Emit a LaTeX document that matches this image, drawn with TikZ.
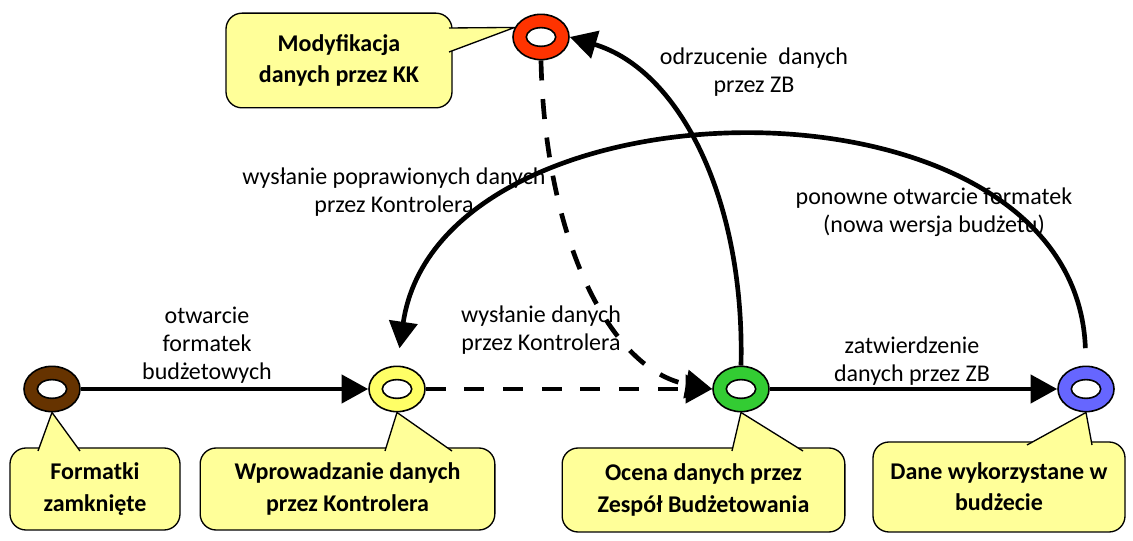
\documentclass[tikz,border=0pt]{standalone}
\usepackage{fontspec}
\setmainfont{Carlito}
\usepackage{tikz}
\usetikzlibrary{arrows.meta}
\usetikzlibrary{shapes}

\definecolor{stbrown}{RGB}{102,51,0}
\definecolor{styellow}{RGB}{255,255,102}
\definecolor{stred}{RGB}{255,51,0}
\definecolor{stgreen}{RGB}{51,204,51}
\definecolor{stblue}{RGB}{102,102,255}
\definecolor{callfill}{RGB}{255,255,153}

\begin{document}
\begin{tikzpicture}[x=0.75pt,y=0.75pt,yscale=-1,xscale=1,
  state/.style={ellipse, draw, line width=1.2pt, minimum width=42pt, minimum height=34pt, inner sep=0pt,
    path picture={\draw[line width=1.2pt, fill=white] (path picture bounding box.center) ellipse (11pt and 7pt);}},
  callbox/.style={draw, fill=callfill, rounded corners=12pt, line width=1pt, align=center, inner sep=0pt,
    font=\bfseries\fontsize{18}{23.5}\selectfont},
  lbl/.style={align=center, inner sep=0pt, font=\fontsize{18}{21}\selectfont},
  flow/.style={line width=3.5pt, -{Triangle[length=20pt,width=21pt]}},
  flowdash/.style={flow, dash pattern=on 15pt off 14pt}]
\useasboundingbox (0,0) rectangle (1133,541);

%States
\node[state, fill=stbrown] (s1) at (52,389) {};
\node[state, fill=styellow] (s2) at (397,389) {};
\node[state, fill=stgreen] (s3) at (741,389) {};
\node[state, fill=stblue] (s4) at (1086,389) {};
\node[state, fill=stred] (s5) at (541,37) {};

%Callouts
\node[callbox, minimum width=127.5pt, minimum height=61.5pt] (cf) at (95,489) {Formatki\\zamknięte};
\node[callbox, minimum width=221pt, minimum height=61.5pt] (cw) at (347.5,489) {Wprowadzanie danych\\przez Kontrolera};
\node[callbox, minimum width=212pt, minimum height=63pt] (co) at (703.5,490) {Ocena danych przez\\Zespół Budżetowania};
\node[callbox, minimum width=189pt, minimum height=67.5pt] (cd) at (999,487) {Dane wykorzystane w\\budżecie};
\node[callbox, minimum width=169.5pt, minimum height=71pt] (cm) at (339,60.5) {Modyfikacja\\danych przez KK};

%Callout pointers
\foreach \t/\px/\py/\qx/\qy in {s1.south/38/451/80/451, s2.south/385/451/452/451,
    s3.south/732/451/803/451, s4.south/1027/445/1092/445, s5.160/449/28/449/52}
  \filldraw[fill=callfill, line width=1pt, line join=round] (\px,\py) -- (\t) -- (\qx,\qy);

% Text Node
\node[lbl] (l1) at (207,345) {otwarcie\\formatek\\budżetowych};
% Text Node
\node[lbl] (l2) at (541,330) {wysłanie danych\\przez Kontrolera};
% Text Node
\node[lbl] (l3) at (912,361) {zatwierdzenie\\danych przez ZB};
% Text Node
\node[lbl] (l4) at (754,72) {odrzucenie~ danych\\przez ZB};
% Text Node
\node[lbl] (l5) at (394,192) {wysłanie poprawionych danych\\przez Kontrolera};
% Text Node
\node[lbl] (l6) at (934,212) {ponowne otwarcie formatek\\(nowa wersja budżetu)};

%Connectors
\draw[flow] (s1) -- (s2);
\draw[flowdash] (s2) -- (s3);
\draw[flow] (s3) -- (s4);
\draw[flowdash] (s5.south) .. controls (545,240) and (610,370) .. (s3.west);
\draw[flow] (s3.north) .. controls (745,200) and (680,70) .. (s5.east);
\draw[flow, shorten <=13pt, shorten >=13pt] (s4.north) .. controls (1075,60) and (440,70) .. (s2.north);

\end{tikzpicture}
\end{document}
